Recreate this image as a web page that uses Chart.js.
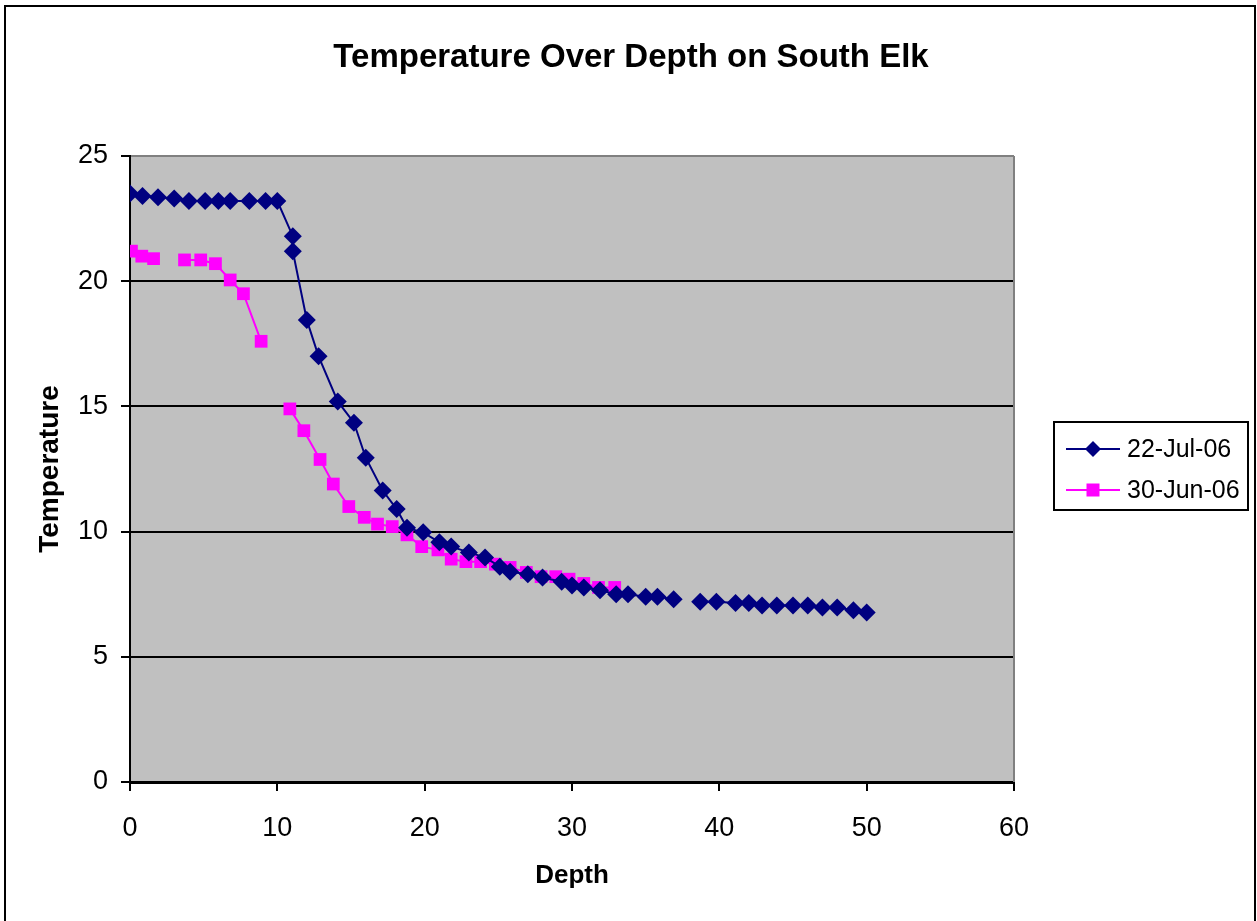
<!DOCTYPE html>
<html>
<head>
<meta charset="utf-8">
<script src="https://cdn.jsdelivr.net/npm/chart.js@4/dist/chart.umd.min.js"></script>
<style>
  html, body { margin: 0; padding: 0; background: #fff; }
  #wrap { width: 1257px; height: 921px; position: relative; }
</style>
</head>
<body>
<div id="wrap"><canvas id="tempChart"></canvas></div>
<script>
// 22-Jul-06 profile (depth, temperature); null = missing reading
const julDepth = [0, 0.85, 1.9, 3.0, 4.0, 5.1, 6.0, 6.8, 8.1, 9.2, 10.0, 11.05, 11.05, 12.0, 12.8,
  14.1, 15.2, 16.0, 17.15, 18.1, 18.8, 19.9, 21.0, 21.8, 23.0, 24.1, 25.1, 25.8, 27.0, 28.0,
  29.3, 30.0, 30.8, 31.9, 33.0, 33.8, 35.0, 35.8, 36.9, 38.0, 38.7, 39.8, 41.1, 42.0, 42.9,
  43.9, 45.0, 46.0, 47.0, 48.0, 49.1, 50.0];
const julTemp = [23.5, 23.4, 23.35, 23.3, 23.2, 23.2, 23.2, 23.2, 23.2, 23.2, 23.2, 21.8, 21.2, 18.45, 17.0,
  15.2, 14.35, 12.95, 11.64, 10.9, 10.15, 9.97, 9.57, 9.4, 9.17, 8.97, 8.6, 8.4, 8.3, 8.17,
  8.0, 7.85, 7.77, 7.66, 7.5, 7.5, 7.4, 7.4, 7.3, null, 7.2, 7.2, 7.15, 7.15, 7.05,
  7.05, 7.05, 7.05, 6.97, 6.97, 6.86, 6.77];

// 30-Jun-06 profile
const junDepth = [0.1, 0.8, 1.6, 2.7, 3.7, 4.8, 5.8, 6.8, 7.7, 8.9, 9.9, 10.85, 11.8, 12.9, 13.8,
  14.85, 15.9, 16.8, 17.8, 18.8, 19.8, 20.9, 21.8, 22.8, 23.8, 24.8, 25.8, 26.9, 27.9, 28.9,
  29.8, 30.8, 31.8, 32.9];
const junTemp = [21.2, 21.0, 20.9, null, 20.85, 20.85, 20.7, 20.05, 19.5, 17.6, null, 14.9, 14.03, 12.88, 11.9,
  11.0, 10.57, 10.3, 10.2, 9.87, 9.4, 9.27, 8.9, 8.8, 8.8, 8.7, 8.57, 8.37, 8.2, 8.2,
  8.1, 7.93, 7.77, 7.77];

const seriesNames = ["22-Jul-06", "30-Jun-06"];
const xTicks = [0, 10, 20, 30, 40, 50, 60];
const yTicks = [0, 5, 10, 15, 20, 25];
const chartTitle = "Temperature Over Depth on South Elk";

const FONT = "'Liberation Sans', Arial, sans-serif";
const BLUE = "#000080";
const PINK = "#ff00ff";

function toPoints(xs, ys) {
  return xs.map((x, i) => ({ x: x, y: ys[i] }));
}

// grey plot area, outer frame, centred title and the boxed legend
const excelLook = {
  id: "excelLook",
  beforeDraw(chart) {
    const { ctx, chartArea: a } = chart;
    ctx.save();
    ctx.fillStyle = "#fff";
    ctx.fillRect(0, 0, chart.width, chart.height);
    ctx.fillStyle = "#c0c0c0";
    ctx.fillRect(a.left, a.top, a.right - a.left, a.bottom - a.top);
    ctx.restore();
  },
  beforeDatasetsDraw(chart) {
    const { ctx, chartArea: a } = chart;
    ctx.save();
    ctx.strokeStyle = "#808080";
    ctx.lineWidth = 2;
    ctx.beginPath();
    ctx.moveTo(a.right, a.top);
    ctx.lineTo(a.right, a.bottom);
    ctx.stroke();
    ctx.restore();
  },
  afterDraw(chart) {
    const ctx = chart.ctx;
    ctx.save();
    // outer frame
    ctx.strokeStyle = "#000";
    ctx.lineWidth = 2;
    ctx.beginPath();
    ctx.moveTo(5, 930);
    ctx.lineTo(5, 6);
    ctx.lineTo(1255, 6);
    ctx.lineTo(1255, 930);
    ctx.stroke();

    // title, centred on the whole chart
    ctx.fillStyle = "#000";
    ctx.font = "bold 33px " + FONT;
    ctx.textAlign = "center";
    ctx.textBaseline = "middle";
    ctx.fillText(chartTitle, 631, 58);

    // legend box
    ctx.strokeRect(1054, 422, 194, 88);
    const rows = [
      { y: 449, color: BLUE, style: "diamond" },
      { y: 490, color: PINK, style: "square" },
    ];
    ctx.font = "25px " + FONT;
    ctx.textAlign = "left";
    rows.forEach((r, i) => {
      ctx.strokeStyle = r.color;
      ctx.fillStyle = r.color;
      ctx.lineWidth = 2;
      ctx.beginPath();
      ctx.moveTo(1066, r.y);
      ctx.lineTo(1120, r.y);
      ctx.stroke();
      ctx.beginPath();
      if (r.style === "diamond") {
        ctx.moveTo(1093, r.y - 8);
        ctx.lineTo(1101, r.y);
        ctx.lineTo(1093, r.y + 8);
        ctx.lineTo(1085, r.y);
        ctx.closePath();
      } else {
        ctx.rect(1086.5, r.y - 6.5, 13, 13);
      }
      ctx.fill();
      ctx.fillStyle = "#000";
      ctx.fillText(seriesNames[i], 1127, r.y + 1);
    });
    ctx.restore();
  },
};

const ctx = document.getElementById("tempChart").getContext("2d");
new Chart(ctx, {
  type: "line",
  data: {
    datasets: [
      {
        label: seriesNames[0],
        data: toPoints(julDepth, julTemp),
        borderColor: BLUE,
        backgroundColor: BLUE,
        borderWidth: 2,
        pointStyle: "rectRot",
        pointRadius: 9,
        pointBorderWidth: 0,
        tension: 0,
        spanGaps: false,
      },
      {
        label: seriesNames[1],
        data: toPoints(junDepth, junTemp),
        borderColor: PINK,
        backgroundColor: PINK,
        borderWidth: 2,
        pointStyle: "rect",
        pointRadius: 9,
        pointBorderWidth: 0,
        tension: 0,
        spanGaps: false,
      },
    ],
  },
  options: {
    responsive: true,
    maintainAspectRatio: false,
    animation: false,
    layout: { padding: { left: 10, top: 156, right: 243, bottom: 10 } },
    plugins: {
      legend: { display: false },
      tooltip: { enabled: false },
      title: { display: false },
    },
    scales: {
      x: {
        type: "linear",
        min: 0,
        max: 60,
        afterBuildTicks: (s) => { s.ticks = xTicks.map((v) => ({ value: v })); },
        afterFit: (s) => { s.height = 129; },
        ticks: { color: "#000", font: { family: FONT, size: 27 }, padding: 21 },
        grid: { drawOnChartArea: false, tickLength: 9, tickColor: "#000", lineWidth: 2 },
        border: { color: "#000", width: 3 },
        title: {
          display: true,
          text: "Depth",
          color: "#000",
          font: { family: FONT, size: 26, weight: "bold" },
          padding: { top: 0, bottom: 19.4 },
        },
      },
      y: {
        min: 0,
        max: 25,
        afterBuildTicks: (s) => { s.ticks = yTicks.map((v) => ({ value: v })); },
        afterFit: (s) => { s.width = 120; },
        ticks: { color: "#000", font: { family: FONT, size: 27 }, padding: 13 },
        grid: {
          color: (c) => (c.tick && c.tick.value === 25 ? "#808080" : "#000"),
          tickColor: "#000",
          tickLength: 9,
          lineWidth: 2,
        },
        border: { color: "#000", width: 2 },
        title: {
          display: true,
          text: "Temperature",
          color: "#000",
          font: { family: FONT, size: 28, weight: "bold" },
          padding: { top: 23.2, bottom: 0 },
        },
      },
    },
  },
  plugins: [excelLook],
});
</script>
</body>
</html>
